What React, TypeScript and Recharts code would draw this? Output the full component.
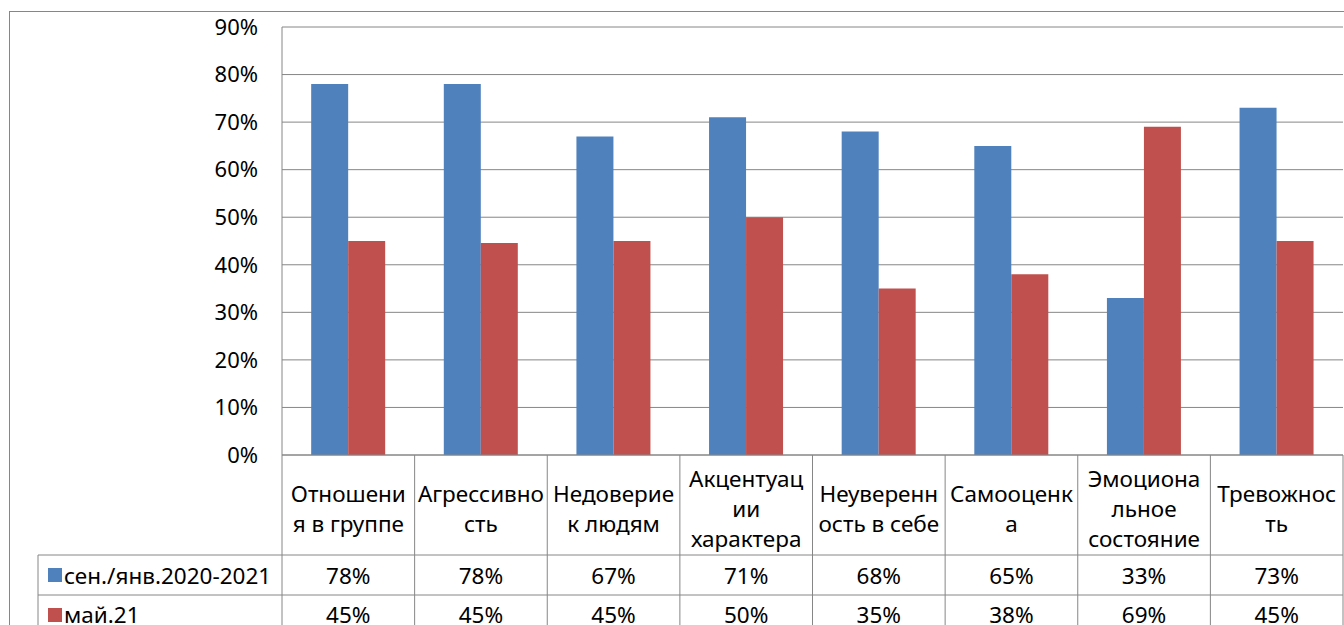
import { BarChart, Bar, XAxis, YAxis, CartesianGrid, Customized } from 'recharts';

const categories = [
  'Отношения в группе',
  'Агрессивность',
  'Недоверие к людям',
  'Акцентуации характера',
  'Неуверенность в себе',
  'Самооценка',
  'Эмоциональное состояние',
  'Тревожность',
];

// wrapped the way the source table breaks them
const categoryLines = [
  ['Отношени', 'я в группе'],
  ['Агрессивно', 'сть'],
  ['Недоверие', 'к людям'],
  ['Акцентуац', 'ии', 'характера'],
  ['Неуверенн', 'ость в себе'],
  ['Самооценк', 'а'],
  ['Эмоциона', 'льное', 'состояние'],
  ['Тревожнос', 'ть'],
];

const seriesNames = ['сен./янв.2020-2021', 'май.21'];
const sepJan = [0.78, 0.78, 0.67, 0.71, 0.68, 0.65, 0.33, 0.73];
const may21 = [0.45, 0.446, 0.45, 0.5, 0.35, 0.38, 0.69, 0.45];
const yTicks = [0, 0.1, 0.2, 0.3, 0.4, 0.5, 0.6, 0.7, 0.8, 0.9];

const colors = ['#4F81BD', '#C0504D'];
const lineColor = '#868686';
const font = '"Noto Sans", sans-serif';
const fs = 22.5;

const data = categories.map((name, i) => ({ name, a: sepJan[i], b: may21[i] }));

const W = 1344;
const H = 625;
const PLOT_LEFT = 282;
const TABLE_H = 170;

const pct = (v: number) => `${Math.round(v * 100)}%`;

function TableTick(props: any) {
  const { x, y, payload } = props;
  const i = payload.index;
  const bw = payload.offset ? payload.offset * 2 : (W - 1 - PLOT_LEFT) / categories.length;
  const lines = categoryLines[i];
  const mid = y + 53;
  return (
    <g>
      {i === 0 && (
        <line x1={x - bw / 2} x2={x - bw / 2} y1={y} y2={y + TABLE_H} stroke={lineColor} />
      )}
      <line x1={x + bw / 2} x2={x + bw / 2} y1={y} y2={y + TABLE_H} stroke={lineColor} />
      <line x1={x - bw / 2} x2={x + bw / 2} y1={y + 100} y2={y + 100} stroke={lineColor} />
      <line x1={x - bw / 2} x2={x + bw / 2} y1={y + 140} y2={y + 140} stroke={lineColor} />
      {lines.map((t, k) => (
        <text
          key={k}
          x={x}
          y={mid + (k - (lines.length - 1) / 2) * 30}
          textAnchor="middle"
          dominantBaseline="central"
          fontSize={fs}
          fontFamily={font}
          fill="#000"
        >
          {t}
        </text>
      ))}
      <text x={x} y={y + 120} textAnchor="middle" dominantBaseline="central" fontSize={fs} fontFamily={font} fill="#000">
        {pct(sepJan[i])}
      </text>
      <text x={x} y={y + 159} textAnchor="middle" dominantBaseline="central" fontSize={fs} fontFamily={font} fill="#000">
        {pct(may21[i])}
      </text>
    </g>
  );
}

function LegendColumn() {
  return (
    <g>
      <rect x={9.5} y={11.5} width={W + 100} height={H + 100} fill="none" stroke={lineColor} />
      <line x1={38} x2={PLOT_LEFT} y1={555} y2={555} stroke={lineColor} />
      <line x1={38} x2={PLOT_LEFT} y1={595} y2={595} stroke={lineColor} />
      <line x1={38} x2={38} y1={555} y2={H} stroke={lineColor} />
      {seriesNames.map((s, k) => (
        <g key={s}>
          <rect x={48} y={568 + k * 40} width={14} height={14} fill={colors[k]} />
          <text x={64} y={575 + k * 39} dominantBaseline="central" fontSize={fs} fontFamily={font} fill="#000">
            {s}
          </text>
        </g>
      ))}
    </g>
  );
}

export default function App() {
  return (
    <div style={{ position: 'absolute', left: 0, top: 0, width: W, height: H, background: '#fff' }}>
      <BarChart
        width={W}
        height={H}
        data={data}
        margin={{ top: 27, right: 1, bottom: 0, left: 0 }}
        barCategoryGap="22%"
        barGap={0}
      >
        <CartesianGrid vertical={false} stroke={lineColor} strokeDasharray="" />
        <XAxis
          dataKey="name"
          height={TABLE_H}
          interval={0}
          tickLine={false}
          tickSize={0}
          tickMargin={0}
          axisLine={{ stroke: lineColor }}
          tick={<TableTick />}
        />
        <YAxis
          width={PLOT_LEFT}
          domain={[0, 0.9]}
          ticks={yTicks}
          tickFormatter={pct}
          tickLine={false}
          tickSize={0}
          tickMargin={24}
          axisLine={{ stroke: lineColor }}
          tick={{ fontSize: 22, fontFamily: font, fill: '#000' }}
        />
        <Bar dataKey="a" name={seriesNames[0]} fill={colors[0]} isAnimationActive={false} />
        <Bar dataKey="b" name={seriesNames[1]} fill={colors[1]} isAnimationActive={false} />
        <Customized component={<LegendColumn />} />
      </BarChart>
    </div>
  );
}
